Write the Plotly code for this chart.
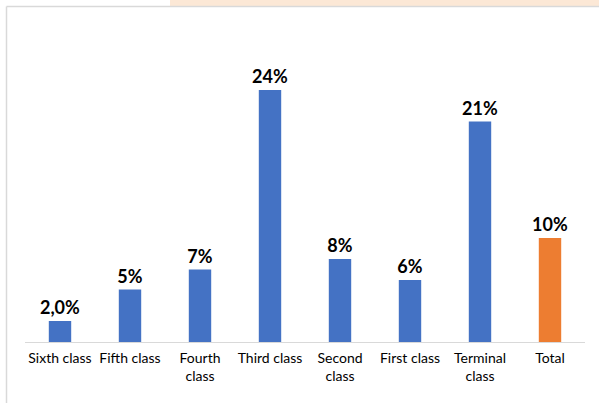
import plotly.graph_objects as go

categories = ["Sixth class", "Fifth class", "Fourth<br>class", "Third class",
              "Second<br>class", "First class", "Terminal<br>class", "Total"]
values = [2.0, 5.0, 6.9, 24.0, 7.9, 5.9, 21.0, 9.9]
labels = ["2,0%", "5%", "7%", "24%", "8%", "6%", "21%", "10%"]
colors = ["#4472C4"] * 7 + ["#ED7D31"]

W, H = 599, 403
L, R, T, B = 25, 14, 69, 61
pw, ph = W - L - R, H - T - B

def px(x):
    return (x - L) / pw

def py(y):
    return (H - B - y) / ph

fig = go.Figure(go.Bar(
    x=categories, y=values, text=labels, textposition="outside",
    marker=dict(color=colors, line=dict(width=0)),
    width=0.32, cliponaxis=False,
    textfont=dict(family="Lato", size=18, color="#000000", weight="bold"),
    hoverinfo="skip",
))

fig.update_layout(
    width=W, height=H,
    margin=dict(l=L, r=R, t=T, b=B, pad=0),
    paper_bgcolor="white", plot_bgcolor="white",
    showlegend=False,
    uniformtext=dict(minsize=18, mode="show"),
    xaxis=dict(showline=True, linecolor="#D9D9D9", linewidth=1, ticks="",
               ticklabelstandoff=3,
               tickfont=dict(family="Lato", size=14, color="#000000"),
               showgrid=False, zeroline=False, fixedrange=True),
    yaxis=dict(range=[0, 26], visible=False, showgrid=False, zeroline=False,
               fixedrange=True),
    shapes=[
        dict(type="rect", xref="paper", yref="paper",
             x0=px(170), x1=px(599), y0=py(0), y1=py(6),
             fillcolor="#FCE8D6", line=dict(width=0), layer="below"),
        dict(type="line", xref="paper", yref="paper",
             x0=px(6.5), x1=px(599), y0=py(6.5), y1=py(6.5),
             line=dict(color="#D9D9D9", width=1.5)),
        dict(type="line", xref="paper", yref="paper",
             x0=px(6.5), x1=px(6.5), y0=py(6.5), y1=py(403),
             line=dict(color="#D9D9D9", width=1.5)),
    ],
)

fig.write_html(
    "out.html",
    config={"displayModeBar": False},
    post_script="document.body.style.margin='0';document.body.style.overflow='hidden';",
)
